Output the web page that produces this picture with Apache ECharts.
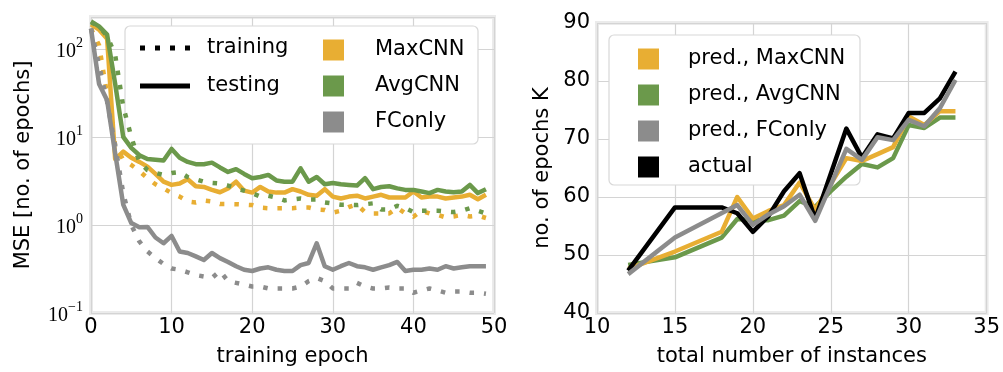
<!DOCTYPE html>
<html>
<head>
<meta charset="utf-8">
<script src="https://cdn.jsdelivr.net/npm/echarts@6/dist/echarts.min.js"></script>
<style>html,body{margin:0;padding:0;background:#fff;}#c{width:1003px;height:372px;}</style>
</head>
<body>
<div id="c"></div>
<script>
// ---------- Left panel: MSE per training epoch (log scale) ----------
const epochs = Array.from({length: 50}, (_, i) => i);
const maxCnnTrain = [170,110,30,8,5.5,4.8,4.1,3.4,2.9,2.6,2.3,2.1,1.85,1.8,1.9,1.85,1.73,1.73,1.72,1.7,1.68,1.57,1.55,1.55,1.55,1.55,1.58,1.58,1.5,1.48,1.38,1.45,1.6,1.7,1.4,1.35,1.35,1.35,1.57,1.35,1.24,1.45,1.35,1.3,1.22,1.25,1.3,1.25,1.28,1.2];
const maxCnnTest = [190,165,130,5.6,6.8,5.8,5.2,4.6,3.8,3.1,2.85,2.95,3.3,2.75,2.7,2.5,2.35,2.6,3.1,2.45,2.33,2.7,2.4,2.33,2.33,2.55,2.4,2.2,2.15,2.55,2.1,2.0,2.1,2.15,2.0,2.1,2.2,2.05,2.05,2.05,2.4,2.05,2.1,2.1,2.0,2.05,2.1,2.2,1.96,2.2];
const avgCnnTrain = [200,180,140,85,22,10,5.2,4.2,3.9,3.7,3.9,4.0,3.5,3.3,3.1,3.0,2.95,2.8,2.6,2.45,2.3,2.1,2.15,2.05,1.9,1.95,2.0,1.95,1.95,1.8,1.75,1.7,1.7,1.68,1.72,1.76,1.5,1.5,1.65,1.55,1.4,1.45,1.45,1.45,1.42,1.4,1.45,1.55,1.45,1.35];
const avgCnnTest = [205,180,145,40,10,7.5,6.2,5.6,5.5,5.4,7.3,5.8,5.2,4.9,4.9,5.1,4.5,4.0,4.3,3.8,3.4,3.5,3.7,3.2,3.1,3.1,4.4,3.1,3.5,2.9,3.0,2.9,2.85,2.8,3.4,2.55,2.7,2.75,2.6,2.5,2.5,2.4,2.3,2.5,2.4,2.35,2.4,2.85,2.3,2.55];
const fcOnlyTrain = [170,65,25,8,2.3,1.0,0.65,0.5,0.42,0.36,0.32,0.31,0.29,0.27,0.26,0.25,0.3,0.23,0.22,0.21,0.2,0.2,0.19,0.19,0.19,0.19,0.2,0.23,0.25,0.23,0.19,0.19,0.19,0.22,0.2,0.19,0.19,0.195,0.19,0.19,0.17,0.18,0.19,0.18,0.17,0.175,0.175,0.17,0.17,0.165];
const fcOnlyTest = [170,40,26,6.5,1.7,1.05,0.94,0.95,0.72,0.62,0.75,0.5,0.48,0.44,0.4,0.48,0.42,0.38,0.34,0.31,0.3,0.32,0.33,0.31,0.3,0.3,0.35,0.37,0.62,0.34,0.31,0.34,0.37,0.34,0.33,0.31,0.33,0.35,0.38,0.3,0.31,0.31,0.32,0.31,0.34,0.32,0.33,0.34,0.34,0.34];
const leftXTicks = [0, 10, 20, 30, 40, 50];

// ---------- Right panel: number of epochs K vs. total number of instances ----------
const maxPredX = [12,15,18,19,20,21,22,23,24,26,27,28,29,30,31,32,33];
const maxPredY = [47.6,50.6,54.0,60.0,56.3,57.6,58.6,62.5,57.8,66.7,66.2,67.4,68.6,73.9,72.4,74.8,74.8];
const avgPredX = [12,15,18,19,20,21,22,23,24,25,26,27,28,29,30,31,32,33];
const avgPredY = [48.3,49.6,53.0,56.2,56.0,56.0,56.8,59.3,58.3,61.0,63.5,65.7,65.1,66.7,72.4,71.9,73.7,73.7];
const fcPredX = [12,15,19,20,21,22,23,24,26,27,28,29,30,31,32,33];
const fcPredY = [46.7,53.0,58.6,55.2,57.0,58.4,60.4,55.9,68.3,66.4,70.3,69.8,73.3,72.2,75.3,80.2];
const actualX = [12,15,18,19,20,21,22,23,24,26,27,28,29,30,31,32,33];
const actualY = [47.3,58.2,58.2,57.2,54.0,56.7,61.0,64.1,56.2,71.8,66.8,70.8,70.1,74.5,74.5,77.0,81.6];

const C_MAX = '#e8ae33', C_AVG = '#6b994b', C_FC = '#8c8c8c', C_ACT = '#000000';
const SANS = 'DejaVu Sans';
const FS = 21;

function pairs(xs, ys) { return xs.map((x, i) => [x, ys[i]]); }

const chart = echarts.init(document.getElementById('c'), null, {renderer: 'canvas'});

const dotted = {width: 4.5, type: [4.5, 10], cap: 'butt'};
function lineSeries(name, data, color, style, xi, yi) {
  return {
    name: name, type: 'line', xAxisIndex: xi, yAxisIndex: yi,
    data: data, color: color, symbol: 'none', showSymbol: false, silent: true,
    animation: false,
    lineStyle: Object.assign({color: color, join: 'round'}, style)
  };
}

const supMap = {'-1': '\u22121', '0': '0', '1': '1', '2': '2'};

const option = {
  animation: false,
  backgroundColor: '#ffffff',
  textStyle: {fontFamily: SANS},
  grid: [
    {left: 91, right: 509, top: 17, bottom: 59, show: true, borderColor: '#ebebeb', borderWidth: 4, backgroundColor: '#fff'},
    {left: 597, right: 16, top: 23, bottom: 58, show: true, borderColor: '#ebebeb', borderWidth: 4, backgroundColor: '#fff'}
  ],
  xAxis: [
    {
      type: 'value', gridIndex: 0, min: 0, max: 50, interval: 10,
      name: 'training epoch', nameLocation: 'middle', nameGap: 33,
      nameTextStyle: {fontFamily: SANS, fontSize: FS, color: '#000'},
      axisLine: {show: false}, axisTick: {show: false},
      axisLabel: {fontFamily: SANS, fontSize: FS, color: '#000', margin: 4},
      splitLine: {show: true, lineStyle: {color: '#d4d4d4', width: 1.2}}
    },
    {
      type: 'value', gridIndex: 1, min: 10, max: 35, interval: 5,
      name: 'total number of instances', nameLocation: 'middle', nameGap: 33,
      nameTextStyle: {fontFamily: SANS, fontSize: FS, color: '#000'},
      axisLine: {show: false}, axisTick: {show: false},
      axisLabel: {fontFamily: SANS, fontSize: FS, color: '#000', margin: 4},
      splitLine: {show: true, lineStyle: {color: '#d4d4d4', width: 1.2}}
    }
  ],
  yAxis: [
    {
      type: 'log', logBase: 10, gridIndex: 0, min: 0.1, max: 230,
      name: 'MSE [no. of epochs]', nameLocation: 'middle', nameGap: 57,
      nameTextStyle: {fontFamily: SANS, fontSize: FS, color: '#000'},
      axisLine: {show: false}, axisTick: {show: false}, minorTick: {show: false},
      axisLabel: {
        margin: 8, color: '#000',
        formatter: function (v) {
          const e = Math.log10(v);
          const r = Math.round(e);
          if (Math.abs(e - r) > 1e-6) return '';
          return '{b|10}{s|' + supMap[String(r)] + '}';
        },
        rich: {
          b: {fontFamily: 'Liberation Serif', fontSize: 20, color: '#000', lineHeight: 26, verticalAlign: 'bottom'},
          s: {fontFamily: 'Liberation Serif', fontSize: 14, color: '#000', lineHeight: 26, verticalAlign: 'top'}
        }
      },
      splitLine: {show: true, lineStyle: {color: '#d4d4d4', width: 1.2}}
    },
    {
      type: 'value', gridIndex: 1, min: 40, max: 90, interval: 10,
      name: 'no. of epochs K', nameLocation: 'middle', nameGap: 44,
      nameTextStyle: {fontFamily: SANS, fontSize: FS, color: '#000'},
      axisLine: {show: false}, axisTick: {show: false},
      axisLabel: {fontFamily: SANS, fontSize: FS, color: '#000', margin: 7},
      splitLine: {show: true, lineStyle: {color: '#d4d4d4', width: 1.2}}
    }
  ],
  graphic: [
    {type: 'rect', z: 3, shape: {x: 125, y: 26, width: 353, height: 118, r: 5}, style: {fill: '#ffffff', stroke: '#d8d8d8', lineWidth: 1.2}},
    {type: 'rect', z: 3, shape: {x: 609, y: 35, width: 251, height: 150, r: 5}, style: {fill: '#ffffff', stroke: '#d8d8d8', lineWidth: 1.2}}
  ],
  legend: [
    {
      z: 5, orient: 'vertical', left: 135, top: 31, itemGap: 14,
      itemWidth: 50, itemHeight: 5, selectedMode: false,
      itemStyle: {borderWidth: 0},
      textStyle: {fontFamily: SANS, fontSize: FS, color: '#000', lineHeight: 24, padding: [0, 0, 0, 12]},
      data: [
        {name: 'training', icon: 'path://M0,0h5v5h-5z M15,0h5v5h-5z M30,0h5v5h-5z M45,0h5v5h-5z'},
        {name: 'testing', icon: 'rect'}
      ]
    },
    {
      z: 5, orient: 'vertical', left: 318, top: 33, itemGap: 12,
      itemWidth: 21, itemHeight: 21, selectedMode: false, icon: 'rect',
      itemStyle: {borderWidth: 0},
      textStyle: {fontFamily: SANS, fontSize: FS, color: '#000', lineHeight: 24, padding: [0, 0, 0, 26]},
      data: ['MaxCNN', 'AvgCNN', 'FConly']
    },
    {
      z: 5, orient: 'vertical', left: 633, top: 42, itemGap: 12,
      itemWidth: 21, itemHeight: 21, selectedMode: false, icon: 'rect',
      itemStyle: {borderWidth: 0},
      textStyle: {fontFamily: SANS, fontSize: FS, color: '#000', lineHeight: 24, padding: [0, 0, 0, 24]},
      data: ['pred., MaxCNN', 'pred., AvgCNN', 'pred., FConly', 'actual']
    }
  ],
  series: [
    lineSeries('training', [], '#000', dotted, 0, 0),
    lineSeries('testing', [], '#000', {width: 4.5}, 0, 0),
    lineSeries('MaxCNN', pairs(epochs, maxCnnTrain), C_MAX, dotted, 0, 0),
    lineSeries('MaxCNN', pairs(epochs, maxCnnTest), C_MAX, {width: 4.5}, 0, 0),
    lineSeries('AvgCNN', pairs(epochs, avgCnnTrain), C_AVG, dotted, 0, 0),
    lineSeries('AvgCNN', pairs(epochs, avgCnnTest), C_AVG, {width: 4.5}, 0, 0),
    lineSeries('FConly', pairs(epochs, fcOnlyTrain), C_FC, dotted, 0, 0),
    lineSeries('FConly', pairs(epochs, fcOnlyTest), C_FC, {width: 4.5}, 0, 0),
    lineSeries('pred., AvgCNN', pairs(avgPredX, avgPredY), C_AVG, {width: 4.5}, 1, 1),
    lineSeries('pred., MaxCNN', pairs(maxPredX, maxPredY), C_MAX, {width: 4.5}, 1, 1),
    lineSeries('actual', pairs(actualX, actualY), C_ACT, {width: 4.5}, 1, 1),
    lineSeries('pred., FConly', pairs(fcPredX, fcPredY), C_FC, {width: 4.5}, 1, 1)
  ]
};
chart.setOption(option);
</script>
</body>
</html>
